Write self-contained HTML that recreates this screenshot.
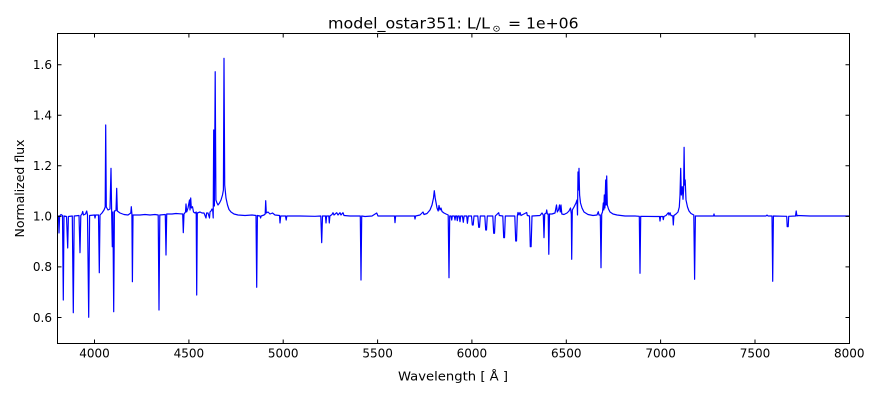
<!DOCTYPE html>
<html>
<head>
<meta charset="utf-8">
<style>
html,body{margin:0;padding:0;background:#fff;}
svg{display:block;}
text{font-family:"DejaVu Sans","Liberation Sans",sans-serif;fill:#000;}
</style>
</head>
<body>
<svg width="880" height="400" viewBox="0 0 880 400" xmlns="http://www.w3.org/2000/svg">
<rect x="0" y="0" width="880" height="400" fill="#fff"/>
<defs>
<clipPath id="ax"><rect x="57.5" y="33.5" width="792" height="310"/></clipPath>
</defs>
<g clip-path="url(#ax)">
<path fill="none" stroke="#0000ff" stroke-width="1.2" stroke-linejoin="round" d="M57.5,216.5 L58.5,216 L59,233 L59.6,216 L61,214.5 L62.5,215.5 L63.3,300 L64,216 L66.5,216.5 L67.7,248 L68.4,216.5 L72.3,216 L73.3,312.7 L74.2,216 L79,215.5 L80,252.7 L80.8,215.5 L82,214 L82.7,211.5 L83.5,215 L85.5,214 L86.7,211 L87.5,215 L88.7,317.3 L89.6,215.5 L94.5,215 L95,218 L95.6,215 L98.5,215 L99.3,272.7 L100,215 L102,213 L104,210 L105.2,207 L105.7,125 L106.3,207 L108,210 L110,209 L111,168.3 L111.6,209 L112.3,246.7 L112.9,212 L113.7,311.7 L114.4,211 L116,210.5 L116.7,188.3 L117.3,211 L120,213 L124,214.5 L128,215 L130.8,213 L131.3,206.7 L131.9,214 L132.4,281.7 L133,215 L140,215 L145,214.5 L150,215 L155,214.5 L158.2,215 L159,310 L159.8,215 L165.3,214.5 L166,255 L166.7,214 L172,214 L176,213.5 L180,213.8 L182.7,214 L183.3,232.7 L184,214 L185.5,212 L186,204 L186.7,212 L188,208 L189.5,200 L190,210 L190.7,198 L191.3,208 L192.5,206.7 L193.5,212 L195,213 L196.2,212 L196.7,295 L197.3,213 L200,212 L202,213 L204,213 L206,218 L206.6,213 L208,213 L209.5,218 L210,212 L211,211 L212,209 L212.7,210 L213.2,218 L213.7,130 L214.4,206 L215.2,71.7 L215.9,200 L217,203 L218,205 L219.5,203 L221,200 L222.5,195 L223.4,190 L224,58.3 L224.7,185 L226,198 L227.5,205 L229,209.5 L231,212 L234,214 L238,215 L245,215.5 L252,215 L256,215.5 L256.7,287.3 L257.4,215.5 L260,216 L260.6,218 L261.2,216 L264,215 L265.2,214 L265.7,200.7 L266.3,213 L268,212 L270,214 L272.5,213 L275,215 L279.5,215.5 L280,223 L280.7,216 L285.5,216 L286.2,220 L286.8,216 L300,216 L315,216.3 L320.8,216 L321.7,242.7 L322.5,216 L325.5,216 L326,223 L326.6,216 L328.8,216 L329.3,223 L329.9,216 L332,214.5 L333,212.7 L334,215 L336.7,212.7 L338,215 L340,212.7 L341,215 L343,212.7 L344,215.5 L350,216 L360.3,216 L361,280 L361.7,216 L365,216.5 L372,216 L376.7,213 L378,216 L385,216 L394.5,216 L395,222.7 L395.6,216 L405,216 L414.5,216 L415,219 L415.6,216 L420,215 L423,212 L424,214.5 L427,213.5 L430,210 L432,205 L433.5,198 L434.3,190.7 L435.2,198 L436.3,204 L437,208 L438.2,211 L439,205.5 L440,210 L441,208 L442,211.5 L444,213 L446,214 L448.2,215 L449,277.7 L449.7,216 L451,216 L451.7,220 L452.3,216 L454.3,216 L455,220 L455.6,216 L456.7,216 L457.3,220.7 L458,216 L459.2,216 L460,221.7 L460.7,216 L462.4,216 L463.3,222.3 L464.1,216 L466.7,216 L467.4,223.3 L468.3,216 L471.5,216 L472.3,225 L473.2,225 L474,216 L477.8,216 L478.7,227.3 L479.5,227.3 L480.3,216 L484.8,216 L485.7,230 L486.5,230 L487.3,216 L492.8,216 L493.7,233.3 L494.5,233.3 L495.3,216 L498.7,212.7 L499.3,215.5 L502.8,216 L503.7,237.7 L504.5,237.7 L505.3,216 L514.8,216 L515.7,241 L516.5,241 L517.3,216 L518,212.5 L519,215 L520,212.5 L521,215.5 L526.7,212.5 L527.3,215.5 L529.5,216 L530.3,246.7 L531.1,246.7 L532,216 L540,215.5 L542,213 L543.3,215 L544,237.7 L544.7,214 L546.2,213 L546.7,210 L547.3,214 L548.2,214 L548.8,254.3 L549.5,214 L552,214 L555,213 L556.5,205 L557.3,212 L558.5,210 L559.5,205 L560.3,212 L561,205 L561.8,214 L564,214.5 L567,213 L569,211 L570.5,208 L571.3,214 L571.7,259.3 L572.3,210 L574,207 L576,203 L577,200 L577.5,215 L578,172 L578.5,190 L579,168.3 L579.6,195 L580.5,203 L582,208 L584,212 L588,214.5 L593,215.5 L597,215 L598.3,211.7 L599,215 L600.3,215 L601,267.7 L601.7,214 L602.5,212 L603.3,203 L603.8,210 L604.3,195 L604.9,208 L605.7,180 L606.1,205 L606.7,176 L607.3,205 L608.5,209 L610,212 L613,214 L617,215 L625,216 L635,216 L639.3,216.3 L640,273.3 L640.7,216.3 L655,216.5 L659.5,216.5 L660,221 L660.6,216.5 L662.8,216.5 L663.3,219.7 L663.9,216.5 L666,215.5 L668.3,212.7 L669,215 L670,212.7 L671,215.5 L672.8,216 L673.3,225 L673.9,215.5 L676,214 L678,212 L679.3,207 L680,195 L680.7,168.3 L681.3,195 L682.3,186.7 L683,199.3 L683.6,190 L684.1,147.3 L684.6,185 L685.2,180 L686,200 L687.5,207 L689,211 L691,213.5 L693.8,215 L694.6,279.3 L695.4,216 L710,216 L713.5,216 L714,214 L714.5,216 L766,216 L767,215 L768,216 L772,216 L772.7,281.3 L773.4,216 L786.7,216.3 L787.2,226.7 L788.2,226.7 L788.7,216.3 L795.5,216 L796.2,211 L796.9,216 L797.5,215.5 L810,216 L850,216"/>
</g>
<!-- axes frame -->
<rect x="57.5" y="33.5" width="792" height="310" fill="none" stroke="#000" stroke-width="1"/>
<!-- x ticks -->
<g stroke="#000" stroke-width="1">
<path d="M94.5,343.5v-4 M188.9,343.5v-4 M283.2,343.5v-4 M377.6,343.5v-4 M471.9,343.5v-4 M566.3,343.5v-4 M660.6,343.5v-4 M755,343.5v-4"/>
<path d="M94.5,33.5v4 M188.9,33.5v4 M283.2,33.5v4 M377.6,33.5v4 M471.9,33.5v4 M566.3,33.5v4 M660.6,33.5v4 M755,33.5v4"/>
<path d="M57.5,317.5h4 M57.5,266.9h4 M57.5,216.4h4 M57.5,165.8h4 M57.5,115.3h4 M57.5,64.7h4"/>
<path d="M849.5,317.5h-4 M849.5,266.9h-4 M849.5,216.4h-4 M849.5,165.8h-4 M849.5,115.3h-4 M849.5,64.7h-4"/>
</g>
<!-- x tick labels -->
<g font-size="12" text-anchor="middle">
<text x="94.5" y="357.5">4000</text>
<text x="188.9" y="357.5">4500</text>
<text x="283.2" y="357.5">5000</text>
<text x="377.6" y="357.5">5500</text>
<text x="471.9" y="357.5">6000</text>
<text x="566.3" y="357.5">6500</text>
<text x="660.6" y="357.5">7000</text>
<text x="755" y="357.5">7500</text>
<text x="849.3" y="357.5">8000</text>
</g>
<!-- y tick labels -->
<g font-size="12" text-anchor="end">
<text x="52" y="321.8">0.6</text>
<text x="52" y="271.2">0.8</text>
<text x="52" y="220.7">1.0</text>
<text x="52" y="170.1">1.2</text>
<text x="52" y="119.6">1.4</text>
<text x="52" y="69">1.6</text>
</g>
<!-- title -->
<text x="328" y="28.3" font-size="15" textLength="162" lengthAdjust="spacingAndGlyphs">model_ostar351: L/L</text>
<text x="492.5" y="31.5" font-size="9" textLength="8" lengthAdjust="spacingAndGlyphs">⊙</text>
<text x="508" y="28.3" font-size="15" textLength="70.5" lengthAdjust="spacingAndGlyphs">= 1e+06</text>
<!-- axis labels -->
<text x="398" y="380.5" font-size="12.5" textLength="110" lengthAdjust="spacingAndGlyphs">Wavelength [ Å ]</text>
<text transform="translate(24,188.5) rotate(-90)" font-size="12.5" text-anchor="middle">Normalized flux</text>
</svg>
</body>
</html>
